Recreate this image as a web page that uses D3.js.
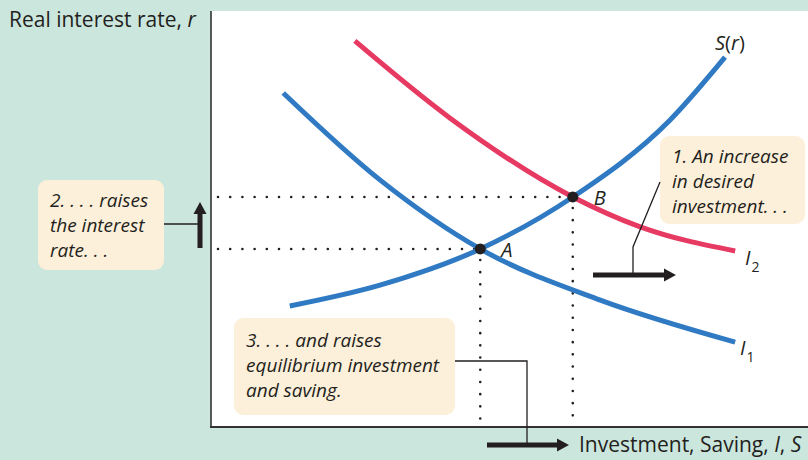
<!DOCTYPE html>
<html>
<head>
<meta charset="utf-8">
<script src="https://cdn.jsdelivr.net/npm/d3@7"></script>
<style>
  body { margin: 0; background: #cbe6dc; }
  svg { display: block; font-family: "Open Sans", Lato, sans-serif; }
</style>
</head>
<body>
<svg width="808" height="460"></svg>
<script>
// curves in chart units (x: quantity, y: real interest rate)
const savingCurve = [[1.32,2.91],[2.83,3.41],[4.51,4.28],[6.06,5.53],[7.69,7.38],[8.61,8.89]];
const invest1 = [[1.21,8.03],[2.83,5.94],[4.51,4.28],[6.52,3.05],[8.78,2.04]];
const invest2 = [[2.41,9.28],[4.00,7.43],[6.06,5.53],[7.19,4.81],[8.78,4.23]];
const equilibria = [{name:'A', x:4.51, y:4.28}, {name:'B', x:6.06, y:5.53}];
const notes = [
  ['2. . . . raises', 'the interest', 'rate. . .'],
  ['1. An increase', 'in desired', 'investment. . .'],
  ['3. . . . and raises', 'equilibrium investment', 'and saving.']
];

const svg = d3.select('svg');
const ink = '#231f20';
const blue = '#2f7ac3';
const red = '#e63a62';

const x = d3.scaleLinear().domain([0,10]).range([211,808]);
const y = d3.scaleLinear().domain([0,10]).range([427,11]);

// plot area
svg.append('rect').attr('x',211).attr('y',11).attr('width',597).attr('height',416).attr('fill','#fff');

// dotted guides
equilibria.forEach(d=>{
  svg.append('line').attr('x1',x(0)+7).attr('x2',x(d.x)).attr('y1',y(d.y)).attr('y2',y(d.y))
    .attr('stroke',ink).attr('stroke-width',2.6).attr('stroke-linecap','round').attr('stroke-dasharray','0 12.2');
  svg.append('line').attr('x1',x(d.x)).attr('x2',x(d.x)).attr('y1',y(d.y)+11).attr('y2',y(0))
    .attr('stroke',ink).attr('stroke-width',2.6).attr('stroke-linecap','round').attr('stroke-dasharray','0 12.2');
});

const line = d3.line().x(d=>x(d[0])).y(d=>y(d[1])).curve(d3.curveMonotoneX);
[[invest1,blue],[invest2,red],[savingCurve,blue]].forEach(([data,col])=>{
  svg.append('path').datum(data).attr('d',line).attr('fill','none')
    .attr('stroke',col).attr('stroke-width',5);
});

// axes
svg.append('line').attr('x1',211).attr('x2',211).attr('y1',11).attr('y2',428).attr('stroke','#333').attr('stroke-width',1.6);
svg.append('line').attr('x1',210).attr('x2',808).attr('y1',427).attr('y2',427).attr('stroke','#333').attr('stroke-width',1.8);

svg.selectAll('circle.eq').data(equilibria).join('circle').attr('class','eq')
  .attr('cx',d=>x(d.x)).attr('cy',d=>y(d.y)).attr('r',5.5).attr('fill',ink);
svg.selectAll('text.eq').data(equilibria).join('text').attr('class','eq')
  .attr('x',d=>x(d.x)+21).attr('y',d=>y(d.y)+8).text(d=>d.name)
  .attr('font-size',20).attr('font-style','italic').attr('fill',ink);

// curve labels
const sLab = svg.append('text').attr('x',715).attr('y',50).attr('font-size',20).attr('fill',ink);
sLab.append('tspan').attr('font-style','italic').text('S');
sLab.append('tspan').text('(');
sLab.append('tspan').attr('font-style','italic').text('r');
sLab.append('tspan').text(')');
[['2',745,265],['1',740,355]].forEach(([s,lx,ly])=>{
  const t = svg.append('text').attr('x',lx).attr('y',ly).attr('font-size',20).attr('fill',ink);
  t.append('tspan').attr('font-style','italic').text('I');
  t.append('tspan').attr('dy',7).attr('font-size',14).attr('dx',1).text(s);
});

// axis titles
const yt = svg.append('text').attr('x',9).attr('y',27).attr('font-size',21).attr('fill',ink);
yt.append('tspan').text('Real interest rate, ');
yt.append('tspan').attr('font-style','italic').text('r');
const xt = svg.append('text').attr('x',579).attr('y',452).attr('font-size',21).attr('fill',ink);
xt.append('tspan').text('Investment, Saving, ');
xt.append('tspan').attr('font-style','italic').text('I');
xt.append('tspan').text(', ');
xt.append('tspan').attr('font-style','italic').text('S');

// annotation boxes
const boxes = [
  {x:38, y:180, w:126, h:90, tx:50, ty:207},
  {x:660, y:136, w:145, h:88, tx:672, ty:163},
  {x:234, y:318, w:221, h:97, tx:246, ty:347}
];
boxes.forEach((b,i)=>{
  svg.append('rect').attr('x',b.x).attr('y',b.y).attr('width',b.w).attr('height',b.h)
    .attr('rx',9).attr('fill','#fdf0da');
  const t = svg.append('text').attr('font-size',19).attr('font-style','italic').attr('fill',ink);
  notes[i].forEach((s,j)=>t.append('tspan').attr('x',b.tx).attr('y',b.ty+j*25).text(s));
});

// connectors
const conn = [
  [[164,224],[200,224]],
  [[660,182],[633,247],[633,275]],
  [[455,361],[527,361],[527,445]]
];
conn.forEach(p=>svg.append('path').attr('d',d3.line()(p)).attr('fill','none').attr('stroke',ink).attr('stroke-width',1.3));

// arrows
function arrow(x1,y1,x2,y2){
  const a = Math.atan2(y2-y1,x2-x1), L = 12, W = 6.5;
  const bx = x2-L*Math.cos(a), by = y2-L*Math.sin(a);
  svg.append('line').attr('x1',x1).attr('y1',y1).attr('x2',bx).attr('y2',by).attr('stroke',ink).attr('stroke-width',5);
  svg.append('polygon').attr('fill',ink).attr('points',[
    [x2,y2],[bx-W*Math.sin(a),by+W*Math.cos(a)],[bx+W*Math.sin(a),by-W*Math.cos(a)]].map(p=>p.join(',')).join(' '));
}
arrow(200,248,200,202);
arrow(593,275,676,275);
arrow(487,445,569,445);
</script>
</body>
</html>
